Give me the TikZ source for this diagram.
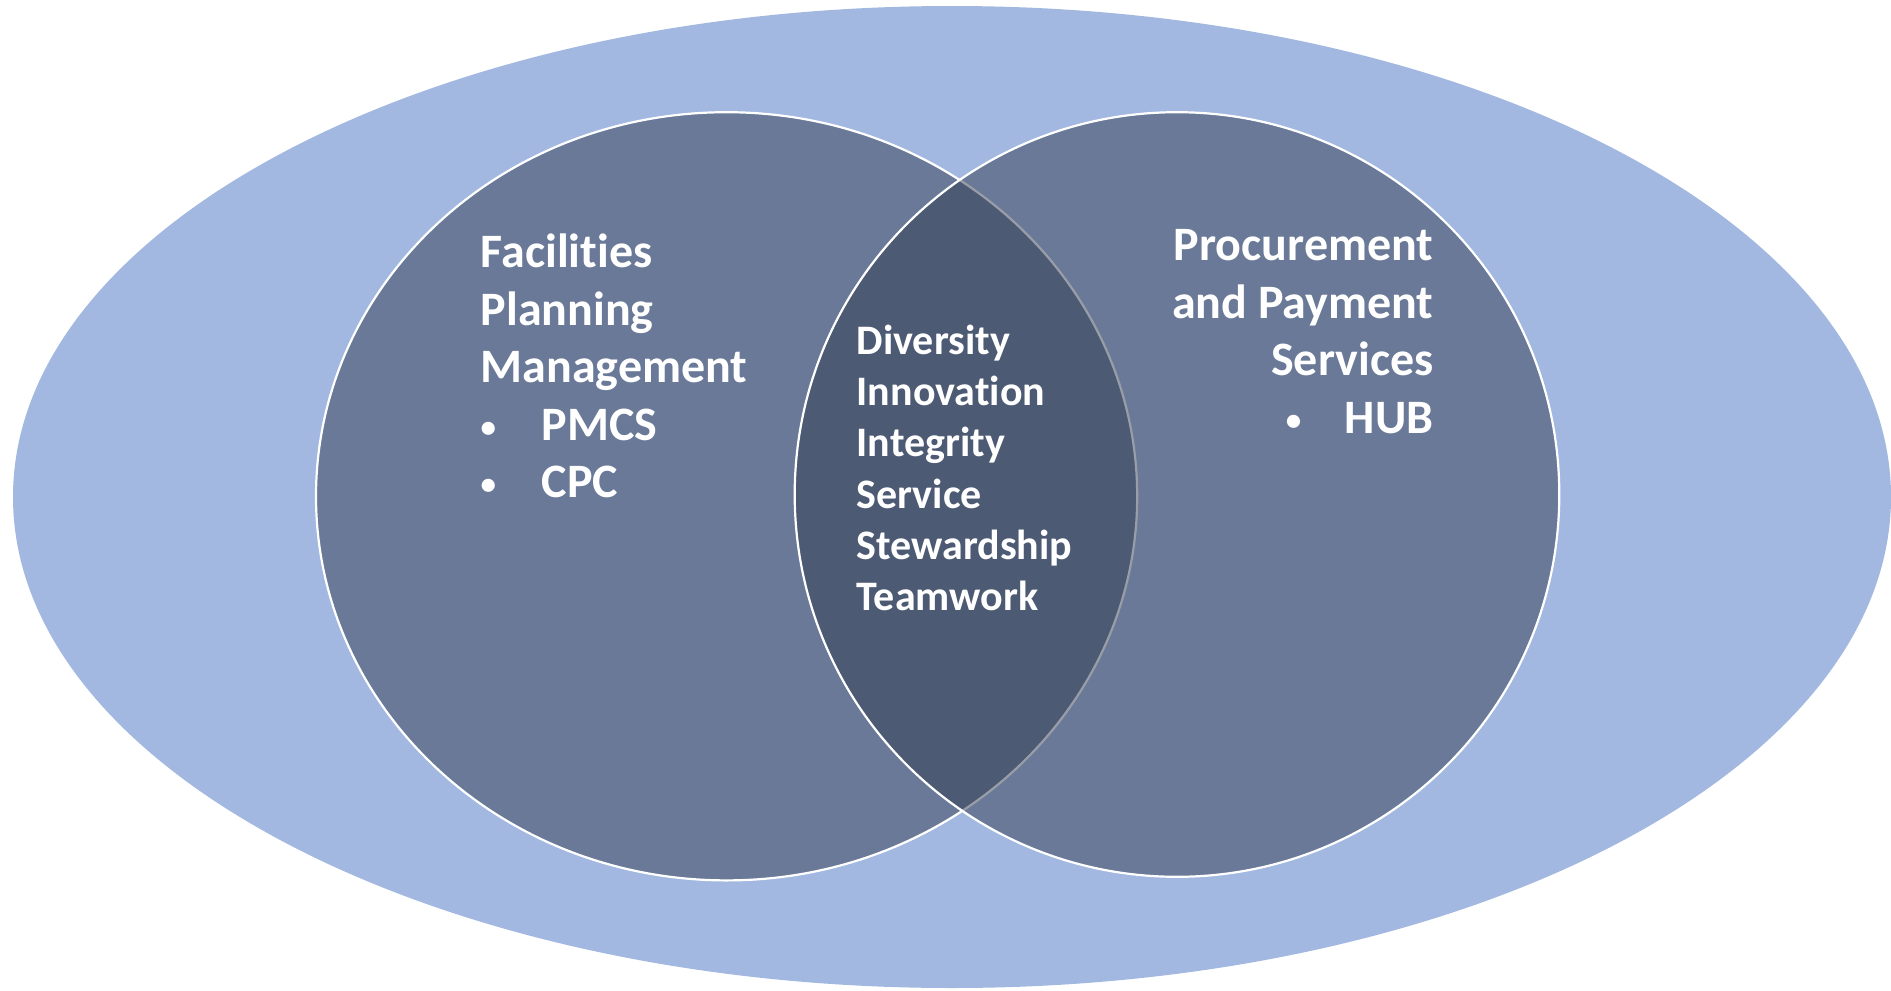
\documentclass[tikz,border=0pt]{standalone}
\usepackage{fontspec}
\setmainfont{Carlito}[Ligatures=NoCommon]
\definecolor{outerblue}{RGB}{162,184,224}
\definecolor{venndark}{RGB}{50,60,80}
\newcommand{\vbul}[1]{\makebox[#1][l]{\raisebox{3pt}{\fontsize{31}{31}\selectfont •}}}
\begin{document}
\begin{tikzpicture}[x=1pt,y=-1pt,
  vennset/.style={fill=venndark, fill opacity=0.5, draw=white, draw opacity=1, line width=2.2pt},
  vlabel/.style={text=white, font=\bfseries\fontsize{48}{57.5}\selectfont, inner sep=0pt, outer sep=0pt},
  clabel/.style={vlabel, font=\bfseries\fontsize{42}{51.2}\selectfont}]
\useasboundingbox (0,0) rectangle (1891,991);
% outer ellipse
\fill[outerblue] (952,497) ellipse [x radius=939, y radius=491];
% left and right sets
\path[vennset] (726.6,496.3) ellipse [x radius=410.6, y radius=384.1];
\path[vennset] (1177,494.5) ellipse [x radius=382.3, y radius=382.3];
% texts (anchor base = baseline of the last line)
\node[vlabel, align=left, anchor=base west] (fpm) at (480.7,497.5)
  {Facilities\\Planning\\Management\\\vbul{61pt}PMCS\\\vbul{61pt}CPC};
\node[clabel, align=left, anchor=base west] (values) at (856.7,610.5)
  {Diversity\\Innovation\\Integrity\\Service\\Stewardship\\Teamwork};
\node[vlabel, align=right, anchor=base east] (pps) at (1433.5,433)
  {Procurement\\and Payment\\Services\\\vbul{59pt}HUB};
\end{tikzpicture}
\end{document}
